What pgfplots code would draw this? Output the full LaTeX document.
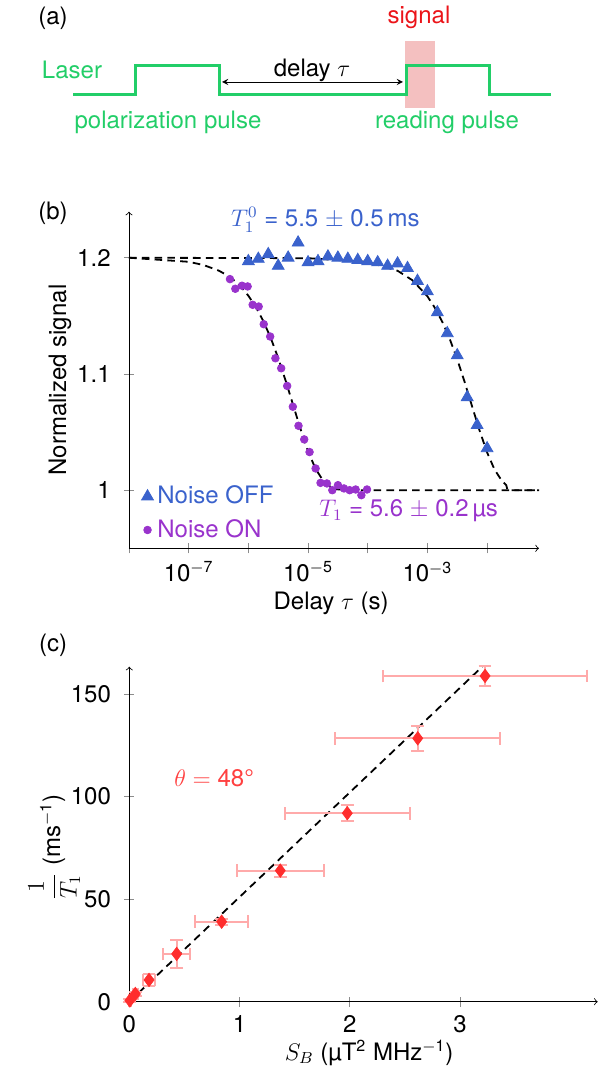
\documentclass[border=0pt]{standalone}
\usepackage{fontspec}
\setmainfont{TeX Gyre Heros}
\usepackage{pgfplots}
\pgfplotsset{compat=1.18}
\definecolor{lasergreen}{RGB}{34,206,104}
\definecolor{sigred}{RGB}{235,20,25}
\definecolor{boxpink}{RGB}{244,192,192}
\definecolor{offblue}{RGB}{58,98,204}
\definecolor{onpurple}{RGB}{153,51,204}
\definecolor{dred}{RGB}{255,45,45}
\definecolor{errred}{RGB}{255,170,170}
\definecolor{thetared}{RGB}{255,64,64}
\definecolor{tickgray}{RGB}{140,140,140}

\pgfplotstableread{
x y
1e-6 1.197
1.468e-6 1.199
2.154e-6 1.203
3.162e-6 1.193
4.642e-6 1.200
6.813e-6 1.213
1e-5 1.196
1.468e-5 1.197
2.154e-5 1.201
3.162e-5 1.200
4.642e-5 1.199
6.813e-5 1.198
1e-4 1.197
1.468e-4 1.196
2.154e-4 1.193
3.162e-4 1.195
4.642e-4 1.191
6.813e-4 1.180
1e-3 1.171
1.468e-3 1.153
2.154e-3 1.135
3.162e-3 1.116
4.642e-3 1.080
6.813e-3 1.056
1e-2 1.036
}\offdata

\pgfplotstableread{
x y
4.92e-7 1.1816
6.05e-7 1.1733
7.83e-7 1.1759
9.73e-7 1.1753
1.18e-6 1.1595
1.49e-6 1.1580
1.81e-6 1.1428
2.32e-6 1.1322
2.84e-6 1.1135
3.55e-6 1.1049
4.47e-6 1.0897
5.56e-6 1.0718
6.92e-6 1.0554
8.63e-6 1.0437
1.06e-5 1.0328
1.34e-5 1.0187
1.62e-5 1.0063
2.07e-5 1.0058
2.55e-5 1.0000
3.17e-5 1.0043
4.00e-5 1.0015
4.98e-5 1.0000
6.28e-5 1.0006
7.83e-5 0.9957
9.73e-5 1.0006
}\ondata

\pgfplotstableread{
x y ex ey
3.228 158.8 0.925 5.0
2.617 128.4 0.750 6.1
1.978 91.9 0.566 4.0
1.370 63.9 0.394 2.9
0.838 39.0 0.238 1.5
0.430 23.3 0.124 6.8
0.179 10.6 0.051 3.0
0.055 3.8 0.02 0.8
0.005 0.6 0.01 0.5
}\sbdata

\begin{document}
\fontsize{12}{14}\selectfont
\begin{tikzpicture}
\path[use as bounding box] (0,0) rectangle (304pt,-537pt);

% ---------------- (a)
\begin{axis}[at={(0pt,0pt)}, anchor=north west, scale only axis,
  width=304pt, height=75pt, xmin=0, xmax=608, ymin=-150, ymax=0,
  hide axis, clip=false]
\addplot[fill=boxpink, draw=none] coordinates {(405,-41) (435,-41) (435,-108) (405,-108)} -- cycle;
\addplot[lasergreen, line width=1.5pt, line join=miter] coordinates {(73,-95) (135,-95) (135,-66) (219,-66) (219,-95) (406,-95) (406,-66) (489,-66) (489,-95) (551,-95)};
\addplot[black, thin, <->, >=stealth] coordinates {(222,-82) (403,-82)};
\node[text=lasergreen] at (axis cs:72,-70) {Laser};
\node[text=lasergreen] at (axis cs:168,-122) {polarization pulse};
\node[text=lasergreen] at (axis cs:447,-122) {reading pulse};
\node[text=black] at (axis cs:312,-70) {delay $\tau$};
\node[text=sigred] at (axis cs:419,-17) {signal};
\end{axis}

% ---------------- (b)
\begin{axis}[at={(64.5pt,-274.15pt)}, anchor=south west, scale only axis,
  width=205pt, height=168.3pt,
  xmode=log, xmin=1e-8, xmax=0.0741, ymin=0.95, ymax=1.2396,
  axis lines=left, axis line style={->},
  tick align=center, major tick length=5pt, tick style={tickgray, thin},
  xminorticks=false, yminorticks=false,
  xtick={1e-8,1e-7,1e-6,1e-5,1e-4,1e-3,1e-2},
  xticklabels={,10\textsuperscript{$-$7},,10\textsuperscript{$-$5},,10\textsuperscript{$-$3},},
  ytick={1,1.1,1.2}, yticklabels={1,1.1,1.2},
  yticklabel style={xshift=-2.5pt},
  xlabel={Delay $\tau$ (s)}, ylabel={Normalized signal},
  xlabel style={at={(axis description cs:0.493,-0.165)}, anchor=center},
  ylabel style={at={(axis description cs:-0.168,0.5)}, anchor=center, rotate=0},
  clip=false,
  legend style={draw=none, fill=none, at={(axis description cs:0.025,0.205)}, anchor=north west, row sep=2pt, inner sep=1pt},
  legend cell align=left]
\addplot[black, line width=0.9pt, dash pattern=on 3.8pt off 2.6pt, forget plot] coordinates {
(1e-8,1.2) (1e-5,1.1996) (1e-4,1.1964) (3.162e-4,1.1888) (5.623e-4,1.1806) (1e-3,1.1668) (1.3335e-3,1.1569) (1.778e-3,1.1448) (2.371e-3,1.1300) (3.162e-3,1.1126) (4.217e-3,1.0929) (5.623e-3,1.0719) (7.499e-3,1.0512) (1e-2,1.0325) (1.3335e-2,1.0177) (1.778e-2,1.0079) (2.089e-2,1.0045) (2.2e-2,1.0) (0.0741,1.0)};
\addplot[black, line width=0.9pt, dash pattern=on 3.8pt off 2.6pt, forget plot] coordinates {
(1e-8,1.2) (1e-7,1.1965) (1.778e-7,1.1937) (3.162e-7,1.1890) (4.217e-7,1.1855) (5.623e-7,1.1809) (7.499e-7,1.1750) (1e-6,1.1673) (1.3335e-6,1.1576) (1.778e-6,1.1456) (2.371e-6,1.1310) (3.162e-6,1.1137) (4.217e-6,1.0942) (5.623e-6,1.0733) (7.499e-6,1.0524) (1e-5,1.0335) (1.3335e-5,1.0185) (1.778e-5,1.0084) (2.371e-5,1.0029) (3.162e-5,1.0007) (5.623e-5,1.0) (0.0741,1.0)};
\addplot[only marks, mark=triangle*, mark size=3.4pt, color=offblue] table[x=x,y=y] {\offdata};
\addlegendentry{\textcolor{offblue}{Noise OFF}}
\addplot[only marks, mark=*, mark size=1.9pt, color=onpurple] table[x=x,y=y] {\ondata};
\addlegendentry{\textcolor{onpurple}{Noise ON}}
\node[text=offblue] at (rel axis cs:0.479,0.975) {$T_1^0$ = 5.5 $\pm$ 0.5\,ms};
\node[text=onpurple] at (rel axis cs:0.682,0.111) {$T_1$ = 5.6 $\pm$ 0.2\,µs};
\end{axis}

% ---------------- (c)
\begin{axis}[at={(64.65pt,-500.85pt)}, anchor=south west, scale only axis,
  width=234.2pt, height=167.5pt,
  xmin=0, xmax=4.25, ymin=0, ymax=163.3,
  axis lines=left, axis line style={->},
  tick align=center, major tick length=5pt, tick style={tickgray, thin},
  /pgf/number format/assume math mode=true,
  xtick={0,1,2,3}, ytick={0,50,100,150},
  yticklabel style={xshift=-2.5pt},
  xlabel={$S_B$ (µT\textsuperscript{2} MHz\textsuperscript{$-$1})},
  ylabel={$\displaystyle\frac{1}{T_1}$ (ms\textsuperscript{$-$1})},
  xlabel style={at={(axis description cs:0.512,-0.153)}, anchor=center},
  ylabel style={at={(axis description cs:-0.16,0.46)}, anchor=center, rotate=0},
  clip=false]
\addplot[black, line width=0.9pt, dash pattern=on 3.8pt off 2.6pt] coordinates {(0,0) (3.21,163.7)};
\addplot[only marks, mark=diamond*, mark size=3.3pt, color=dred,
  error bars/.cd, x dir=both, x explicit, y dir=both, y explicit,
  error bar style={errred, line width=1pt},
  error mark options={rotate=90, errred, line width=1pt, mark size=3.2pt}]
  table[x=x, y=y, x error=ex, y error=ey] {\sbdata};
\node[text=thetared] at (axis cs:0.77,108.9) {$\theta = {}$48°};
\end{axis}

\node at (26.5pt,-9pt) {(a)};
\node at (26.5pt,-106.5pt) {(b)};
\node at (26.5pt,-322.5pt) {(c)};
\end{tikzpicture}
\end{document}
